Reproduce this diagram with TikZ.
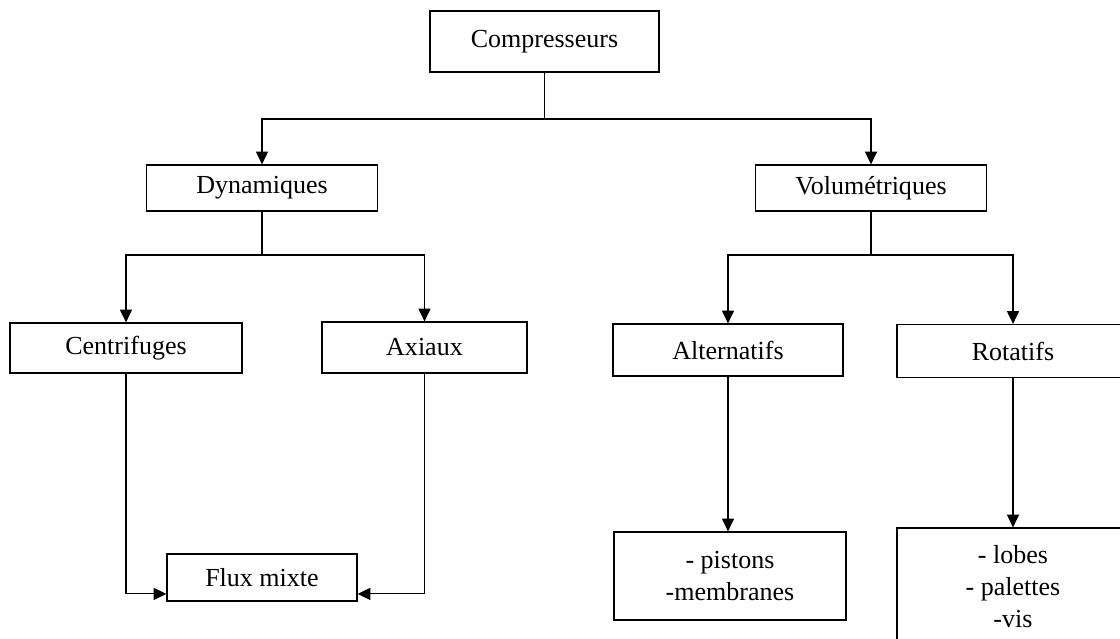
\documentclass[tikz,border=0pt]{standalone}
\usepackage{fontspec}
\setmainfont{Liberation Serif}
\usepackage{tikz}
\usetikzlibrary{arrows.meta}

\begin{document}
\begin{tikzpicture}[x=0.025cm,y=-0.025cm,
  boite/.style={draw,line width=0.9pt,inner sep=0pt,align=center,
    font=\fontsize{18.5}{22.8}\selectfont},
  fleche/.style={line width=0.8pt,-{Triangle[length=9pt,width=8.5pt]}},
  trait/.style={line width=0.8pt}]
\useasboundingbox (0,0) rectangle (1120,639);
\clip (0,0) rectangle (1120,639);

\node[boite,minimum width=229*0.025cm,minimum height=61*0.025cm] (comp) at (544.5,41.5) {Compresseurs};

\node[boite,minimum width=231*0.025cm,minimum height=46*0.025cm] (dyn) at (262,188) {Dynamiques};
\node[boite,minimum width=231*0.025cm,minimum height=46*0.025cm] (vol) at (871,188) {Volum\'etriques};

\node[boite,minimum width=232*0.025cm,minimum height=50*0.025cm] (cent) at (126,348) {Centrifuges};
\node[boite,minimum width=205*0.025cm,minimum height=51*0.025cm] (axi) at (424.5,347.5) {Axiaux};
\node[boite,minimum width=230*0.025cm,minimum height=52*0.025cm] (alt) at (728,350) {Alternatifs};
\node[boite,minimum width=232*0.025cm,minimum height=53*0.025cm] (rot) at (1013,351) {Rotatifs};

\node[boite,minimum width=190*0.025cm,minimum height=47*0.025cm] (flux) at (262,577.5) {Flux mixte};
\node[boite,minimum width=232*0.025cm,minimum height=88*0.025cm] (pist) at (730,576) {- pistons\\-membranes};
\node[boite,minimum width=232*0.025cm,minimum height=118*0.025cm] (lob) at (1013,587) {- lobes\\- palettes\\-vis};

\coordinate (bus1) at (comp.south |- 0,119);
\draw[trait] (comp.south) -- (bus1);
\draw[fleche] (bus1) -| (dyn.north);
\draw[fleche] (bus1) -| (vol.north);

\coordinate (bus2) at (dyn.south |- 0,255);
\draw[trait] (dyn.south) -- (bus2);
\draw[fleche] (bus2) -| (cent.north);
\draw[fleche] (bus2) -| (axi.north);

\coordinate (bus3) at (vol.south |- 0,255);
\draw[trait] (vol.south) -- (bus3);
\draw[fleche] (bus3) -| (alt.north);
\draw[fleche] (bus3) -| (rot.north);

\draw[fleche] (cent.south) |- ([yshift=-0.41cm]flux.west);
\draw[fleche] (axi.south) |- ([yshift=-0.41cm]flux.east);
\draw[fleche] (alt.south) -- (alt.south |- pist.north);
\draw[fleche] (rot.south) -- (lob.north);

\end{tikzpicture}
\end{document}
